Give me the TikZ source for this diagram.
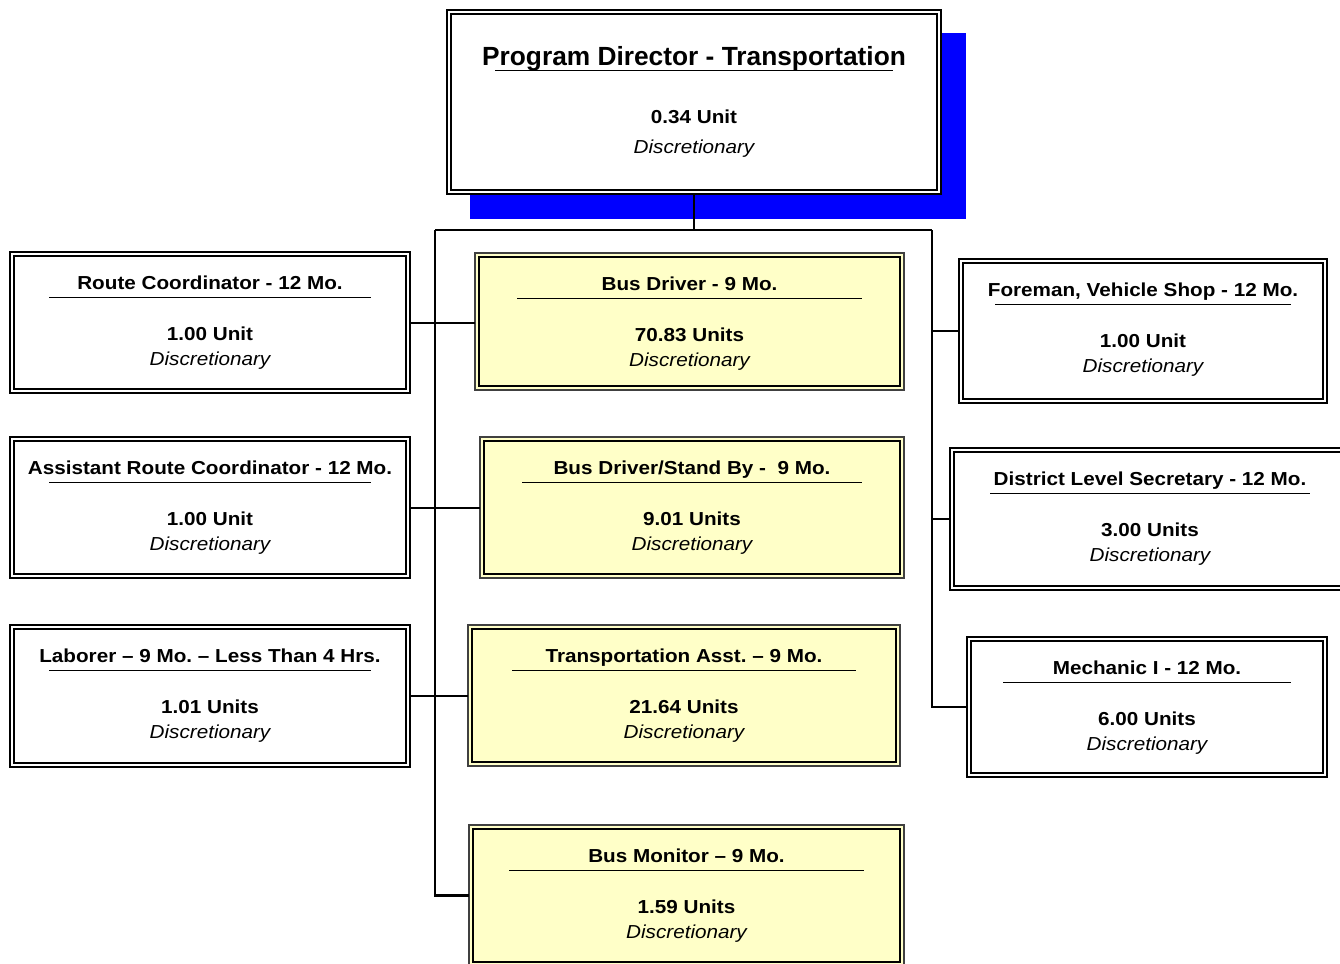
\documentclass[tikz,border=0pt]{standalone}
\usepackage{fontspec}
\setmainfont{Liberation Sans}
\newfontfamily\wfont[FakeStretch=1.1]{Liberation Sans}
\frenchspacing
\definecolor{boxyellow}{RGB}{255,255,200}
\definecolor{shadowblue}{RGB}{0,0,255}
\tikzset{
  obox/.style={draw=black, line width=1.5pt, outer sep=0pt, inner sep=0pt},
  ybox/.style={obox, draw=black!75, fill=boxyellow},
  wbox/.style={obox, fill=white},
  innerline/.style={draw=black, line width=2.5pt},
  conn/.style={draw=black, line width=2pt},
  trunk/.style={draw=black, line width=2.4pt},
  ttl/.style={anchor=base, inner sep=0pt, font=\wfont\fontsize{18.8}{20}\selectfont\bfseries\frenchspacing},
  unt/.style={anchor=base, inner sep=0pt, font=\wfont\fontsize{18.8}{20}\selectfont\bfseries},
  dsc/.style={anchor=base, inner sep=0pt, font=\wfont\fontsize{18.8}{20}\selectfont\itshape},
  ulin/.style={draw=black, line width=1.8pt},
}
% name, x1, y1, x2, y2, style, title, units, underline inset
\newcommand{\orgbox}[9]{%
  \node[#6, minimum width={(#4)-(#2)}, minimum height={(#5)-(#3)}] (#1) at ({((#2)+(#4))/2},{((#3)+(#5))/2}) {};
  \draw[innerline] ([shift={(4,4)}]#1.north west) rectangle ([shift={(-4,-4)}]#1.south east);
  \node[ttl] (#1-t) at ({((#2)+(#4))/2},{(#3)+37}) {#7};
  \draw[ulin] ({(#2)+(#9)},{(#3)+45.5}) -- ({(#4)-(#9)},{(#3)+45.5});
  \node[unt] (#1-u) at ({((#2)+(#4))/2},{(#3)+88.5}) {#8};
  \node[dsc] (#1-d) at ({((#2)+(#4))/2},{(#3)+113}) {Discretionary};
}
\begin{document}
\begin{tikzpicture}[x=1pt,y=-1pt]
\clip (0,0) rectangle (1340,963);
\fill[white] (0,0) rectangle (1340,963);
% top box with shadow
\fill[shadowblue] (470,33) rectangle (966,219);
\node[wbox, minimum width=494, minimum height=184] (top) at (694,102) {};
\draw[innerline] ([shift={(4,4)}]top.north west) rectangle ([shift={(-4,-4)}]top.south east);
\node[anchor=base, inner sep=0pt, font=\fontsize{26.3}{28}\selectfont\bfseries] (top-t) at (694,66) {Program Director - Transportation};
\draw[ulin] (495,70.5) -- (893,70.5);
\node[unt] (top-u) at (694,124) {0.34 Unit};
\node[dsc] (top-d) at (694,153) {Discretionary};
% left column
\orgbox{route}{10}{252}{410}{393}{wbox}{Route Coordinator - 12 Mo.}{1.00 Unit}{39}
\orgbox{asst}{10}{437}{410}{578}{wbox}{Assistant Route Coordinator - 12 Mo.}{1.00 Unit}{39}
\orgbox{labor}{10}{625}{410}{767}{wbox}{Laborer – 9 Mo. – Less Than 4 Hrs.}{1.01 Units}{39}
% middle column
\orgbox{busdrv}{475}{253}{904}{390}{ybox}{Bus Driver - 9 Mo.}{70.83 Units}{42}
\orgbox{standby}{480}{437}{904}{578}{ybox}{Bus Driver/Stand By - \ 9 Mo.}{9.01 Units}{42}
\orgbox{tasst}{468}{625}{900}{766}{ybox}{Transportation Asst. – 9 Mo.}{21.64 Units}{44}
\orgbox{monitor}{469}{825}{904}{966}{ybox}{Bus Monitor – 9 Mo.}{1.59 Units}{40}
% right column
\orgbox{foreman}{959}{259}{1327}{403}{wbox}{Foreman, Vehicle Shop - 12 Mo.}{1.00 Unit}{36}
\orgbox{district}{950}{448}{1350}{590}{wbox}{District Level Secretary - 12 Mo.}{3.00 Units}{40}
\orgbox{mechanic}{967}{637}{1327}{777}{wbox}{Mechanic I - 12 Mo.}{6.00 Units}{36}
% connectors
\coordinate (jL) at (435,230);
\coordinate (jR) at (932,230);
\draw[trunk] (top.south) -- (top.south |- jL);
\draw[trunk] (jL) -- (jR);
\draw[trunk] (jL) |- (monitor.west);
\draw[conn] (jR) |- (mechanic.west);
\draw[conn] (route.east) -- (route.east -| busdrv.west);
\draw[conn] (asst.east) -- (asst.east -| standby.west);
\draw[conn] (labor.east) -- (labor.east -| tasst.west);
\draw[conn] (jR |- foreman.west) -- (foreman.west);
\draw[conn] (jR |- district.west) -- (district.west);
\end{tikzpicture}
\end{document}
